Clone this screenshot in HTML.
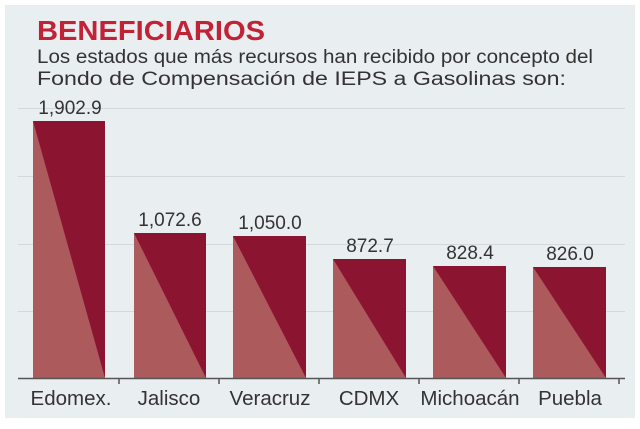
<!DOCTYPE html>
<html><head><style>
body{margin:0;width:640px;height:424px;background:#fff;font-family:"Liberation Sans",sans-serif;}
</style></head><body>
<svg width="640" height="424" xmlns="http://www.w3.org/2000/svg" font-family="Liberation Sans, sans-serif">
<rect x="5" y="5" width="630" height="413" fill="#e9eef1"/>
<text x="37" y="40" font-size="28" font-weight="bold" fill="#c12236" textLength="228" lengthAdjust="spacingAndGlyphs">BENEFICIARIOS</text>
<text x="37" y="63" font-size="19" fill="#333" textLength="556" lengthAdjust="spacingAndGlyphs">Los estados que más recursos han recibido por concepto del</text>
<text x="37" y="85" font-size="19" fill="#333" textLength="529" lengthAdjust="spacingAndGlyphs">Fondo de Compensación de IEPS a Gasolinas son:</text>
<g stroke="#d2d8dc" stroke-width="1">
<line x1="18" y1="108.5" x2="625" y2="108.5"/>
<line x1="18" y1="176.5" x2="625" y2="176.5"/>
<line x1="18" y1="244.5" x2="625" y2="244.5"/>
<line x1="18" y1="311.5" x2="625" y2="311.5"/>
</g>
<g>
<rect x="33" y="121" width="72" height="257" fill="#8b1530"/><polygon points="33,121 105,378 33,378" fill="#ad5a5d"/>
<rect x="134" y="233" width="72" height="145" fill="#8b1530"/><polygon points="134,233 206,378 134,378" fill="#ad5a5d"/>
<rect x="233" y="236" width="73" height="142" fill="#8b1530"/><polygon points="233,236 306,378 233,378" fill="#ad5a5d"/>
<rect x="333" y="259" width="73" height="119" fill="#8b1530"/><polygon points="333,259 406,378 333,378" fill="#ad5a5d"/>
<rect x="433" y="266" width="73" height="112" fill="#8b1530"/><polygon points="433,266 506,378 433,378" fill="#ad5a5d"/>
<rect x="533" y="267" width="73" height="111" fill="#8b1530"/><polygon points="533,267 606,378 533,378" fill="#ad5a5d"/>
</g>
<line x1="18" y1="378.5" x2="625" y2="378.5" stroke="#555" stroke-width="1.5"/>
<g stroke="#555" stroke-width="1.5">
<line x1="119" y1="378" x2="119" y2="384"/><line x1="219" y1="378" x2="219" y2="384"/>
<line x1="319" y1="378" x2="319" y2="384"/><line x1="419" y1="378" x2="419" y2="384"/>
<line x1="519" y1="378" x2="519" y2="384"/><line x1="619" y1="378" x2="619" y2="384"/>
</g>
<g font-size="19" fill="#333" text-anchor="middle">
<text x="70" y="114">1,902.9</text>
<text x="170" y="226">1,072.6</text>
<text x="270" y="229">1,050.0</text>
<text x="370" y="252">872.7</text>
<text x="470" y="259">828.4</text>
<text x="570" y="260">826.0</text>
</g>
<g font-size="20.5" fill="#333" text-anchor="middle">
<text x="71" y="405">Edomex.</text>
<text x="169" y="405">Jalisco</text>
<text x="270" y="405">Veracruz</text>
<text x="369" y="405">CDMX</text>
<text x="470" y="405">Michoacán</text>
<text x="570" y="405">Puebla</text>
</g>
</svg>
</body></html>
